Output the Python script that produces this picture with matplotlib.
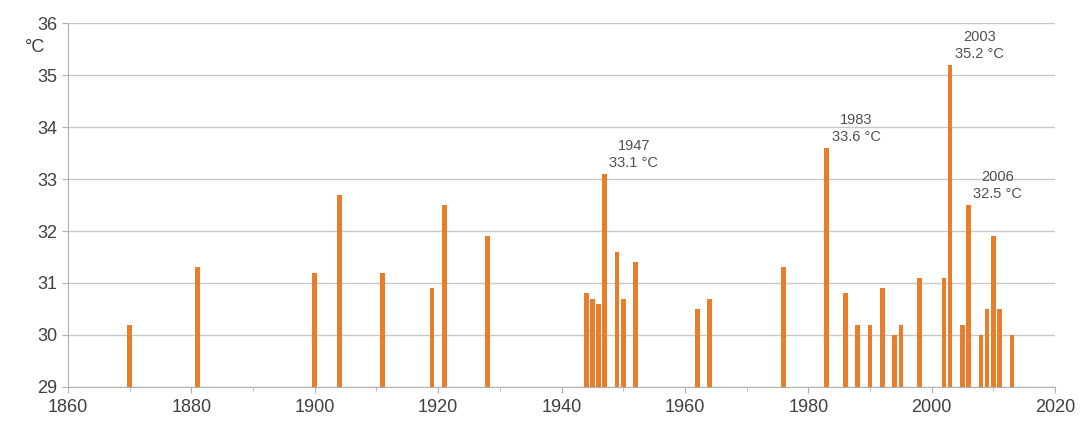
import matplotlib
matplotlib.use('Agg')
import matplotlib.pyplot as plt

plt.rcParams['font.family'] = ['Liberation Sans', 'DejaVu Sans']

# hot days per year (max temperature above 30 °C)
years = [1870, 1881, 1900, 1904, 1911, 1919, 1921, 1928,
         1944, 1945, 1946, 1947, 1949, 1950, 1952, 1962, 1964,
         1976, 1983, 1986, 1988, 1990, 1992, 1994, 1995, 1998,
         2002, 2003, 2005, 2006, 2008, 2009, 2010, 2011, 2013]
temps = [30.2, 31.3, 31.2, 32.7, 31.2, 30.9, 32.5, 31.9,
         30.8, 30.7, 30.6, 33.1, 31.6, 30.7, 31.4, 30.5, 30.7,
         31.3, 33.6, 30.8, 30.2, 30.2, 30.9, 30.0, 30.2, 31.1,
         31.1, 35.2, 30.2, 32.5, 30.0, 30.5, 31.9, 30.5, 30.0]

labelled = [1947, 1983, 2003, 2006]

fig = plt.figure(figsize=(10.87, 4.21), dpi=100)
ax = fig.add_axes([0.0626, 0.081, 0.908, 0.864])

base = 29
ax.bar(years, [t - base for t in temps], bottom=base, width=0.75,
       color='#E87D2B', zorder=3)

for y, t in zip(years, temps):
    if y in labelled:
        ax.annotate(f'{y}\n{t} °C', xy=(y, t), xytext=(21, 14),
                    textcoords='offset points', ha='center', va='center',
                    fontsize=10.5, color='#505050', linespacing=1.3)

ax.set_xlim(1860, 2020)
ax.set_ylim(29, 36)
ax.set_xticks(range(1860, 2021, 20))
ax.set_xticks(range(1870, 2021, 20), minor=True)
ax.set_yticks(range(29, 37))

ax.grid(axis='y', color='#c8c8c8', linewidth=1, zorder=0)
for s in ['top', 'right']:
    ax.spines[s].set_visible(False)
for s in ['left', 'bottom']:
    ax.spines[s].set_color('#b0b0b0')

ax.tick_params(axis='both', labelsize=13, colors='#404040', length=4)
ax.tick_params(axis='both', which='both', color='#b0b0b0')
ax.tick_params(axis='x', which='minor', length=3)
ax.tick_params(axis='x', pad=5)

fig.text(35 / 1087, 1 - 47 / 421, '°C', ha='center', va='center',
         fontsize=13, color='#404040')

fig.savefig('out.png', dpi=100)
